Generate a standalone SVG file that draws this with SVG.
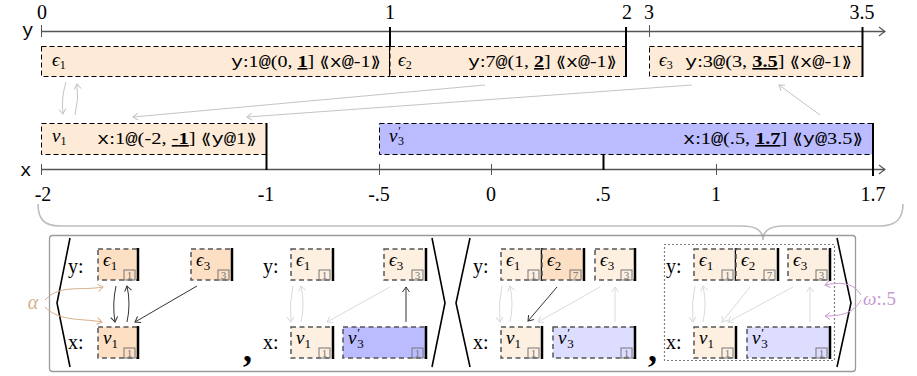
<svg xmlns="http://www.w3.org/2000/svg" width="917" height="376" viewBox="0 0 917 376">
<style>
.ax{stroke:#555;stroke-width:1.3;fill:none}
.tk{stroke:#555;stroke-width:1}
.thk{stroke:#000;stroke-width:2}
.tb{stroke:#000;stroke-width:1;stroke-dasharray:5 3}
.sb{stroke:#555;stroke-width:1.5;stroke-dasharray:5 3.5}
.edge{stroke:#000;stroke-width:2.5}
.tp{fill:#fdebd7}.pk{fill:#fddfc4}.lp{fill:#fdf0e1}.bl{fill:#bbbbff}.lb{fill:#ddddff}
.num{font-family:"Liberation Serif",serif;font-size:20px;text-anchor:middle}
.lab{font-family:"Liberation Serif",serif;font-size:16px}
.tt{font-family:"Liberation Mono",monospace}
.dj{font-family:"DejaVu Sans",sans-serif;font-size:15px}
.gr{font-family:"Liberation Serif","DejaVu Serif",serif;font-style:italic;font-size:19px}
.rl{font-family:"Liberation Serif",serif;font-size:20px}
.ix{fill:none;stroke:#777;stroke-width:1}
.ixt{font-family:"Liberation Serif",serif;font-size:11px;fill:#777;text-anchor:middle}
.ag{stroke:#c4c4c4;stroke-width:1;fill:none;marker-end:url(#mg)}
.ad{stroke:#333;stroke-width:1;fill:none;marker-end:url(#md)}
.al{stroke:#dadada;stroke-width:1;fill:none;marker-end:url(#ml)}
.at{stroke:#d6b08a;stroke-width:1;fill:none;marker-end:url(#mt)}
.ap{stroke:#c79ad2;stroke-width:1;fill:none;marker-end:url(#mp)}
.br{stroke:#000;stroke-width:1.6;fill:none;stroke-linejoin:miter}
</style>
<defs>
<marker id="mg" viewBox="-6 -5 7 10" markerWidth="7" markerHeight="10" refX="0" refY="0" orient="auto" markerUnits="userSpaceOnUse"><path d="M-5 -3.5 Q-1.5 -1 0 0 Q-1.5 1 -5 3.5" fill="none" stroke="#c4c4c4" stroke-width="1"/></marker>
<marker id="md" viewBox="-6 -5 7 10" markerWidth="7" markerHeight="10" refX="0" refY="0" orient="auto" markerUnits="userSpaceOnUse"><path d="M-5 -3.5 Q-1.5 -1 0 0 Q-1.5 1 -5 3.5" fill="none" stroke="#333" stroke-width="1"/></marker>
<marker id="ml" viewBox="-6 -5 7 10" markerWidth="7" markerHeight="10" refX="0" refY="0" orient="auto" markerUnits="userSpaceOnUse"><path d="M-5 -3.5 Q-1.5 -1 0 0 Q-1.5 1 -5 3.5" fill="none" stroke="#dadada" stroke-width="1"/></marker>
<marker id="mt" viewBox="-6 -5 7 10" markerWidth="7" markerHeight="10" refX="0" refY="0" orient="auto" markerUnits="userSpaceOnUse"><path d="M-5 -3.5 Q-1.5 -1 0 0 Q-1.5 1 -5 3.5" fill="none" stroke="#d6b08a" stroke-width="1"/></marker>
<marker id="mp" viewBox="-6 -5 7 10" markerWidth="7" markerHeight="10" refX="0" refY="0" orient="auto" markerUnits="userSpaceOnUse"><path d="M-5 -3.5 Q-1.5 -1 0 0 Q-1.5 1 -5 3.5" fill="none" stroke="#c79ad2" stroke-width="1"/></marker>
<marker id="ma" viewBox="-7 -6 8 12" markerWidth="8" markerHeight="12" refX="0" refY="0" orient="auto" markerUnits="userSpaceOnUse"><path d="M-6 -4.5 Q-2 -1.2 0 0 Q-2 1.2 -6 4.5" fill="none" stroke="#555" stroke-width="1.1"/></marker>
</defs>

<!-- axes -->
<g id="axis-y">
<line class="ax" x1="41" y1="31.5" x2="885" y2="31.5" marker-end="url(#ma)"/>
<line class="tk" x1="41.5" y1="25" x2="41.5" y2="37"/>
<line class="tk" x1="649.5" y1="25" x2="649.5" y2="37"/>
<text class="tt" x="22" y="36" font-size="19">y</text>
<text class="num" x="42" y="19">0</text>
<text class="num" x="390" y="19">1</text>
<text class="num" x="627" y="19">2</text>
<text class="num" x="649" y="19">3</text>
<text class="num" x="862" y="19">3.5</text>
</g>
<g id="axis-x">
<line class="ax" x1="41" y1="169.5" x2="885" y2="169.5" marker-end="url(#ma)"/>
<line class="tk" x1="41.5" y1="164" x2="41.5" y2="175"/>
<line class="tk" x1="379.5" y1="164" x2="379.5" y2="175"/>
<line class="tk" x1="491.5" y1="164" x2="491.5" y2="175"/>
<line class="tk" x1="716.5" y1="164" x2="716.5" y2="175"/>
<line class="thk" x1="603.5" y1="155" x2="603.5" y2="170"/>
<text class="tt" x="20" y="176" font-size="19">x</text>
<text class="num" x="43" y="201">-2</text>
<text class="num" x="266" y="201">-1</text>
<text class="num" x="379" y="201">-.5</text>
<text class="num" x="491" y="201">0</text>
<text class="num" x="603" y="201">.5</text>
<text class="num" x="716" y="201">1</text>
<text class="num" x="873" y="201">1.7</text>
</g>

<!-- timeline nodes -->
<g id="t-eps1">
<rect class="tb tp" x="41.5" y="46.5" width="348.5" height="30"/>
<line class="thk" x1="390" y1="27" x2="390" y2="77"/>
<text class="gr" x="52" y="66" font-size="17">ϵ<tspan font-size="12" font-style="normal" dy="3">1</tspan></text>
<text class="lab" x="231" y="67" textLength="150" lengthAdjust="spacingAndGlyphs"><tspan class="tt">y</tspan>:1<tspan class="tt">@</tspan>(0, <tspan font-weight="bold" text-decoration="underline">1</tspan>] <tspan class="dj">⟪</tspan><tspan class="tt">x@</tspan>-1<tspan class="dj">⟫</tspan></text>
</g>
<g id="t-eps2">
<rect class="tb tp" x="390" y="46.5" width="236" height="30"/>
<line class="thk" x1="626" y1="27" x2="626" y2="77"/>
<text class="gr" x="398" y="66" font-size="17">ϵ<tspan font-size="12" font-style="normal" dy="3">2</tspan></text>
<text class="lab" x="468" y="67" textLength="149" lengthAdjust="spacingAndGlyphs"><tspan class="tt">y</tspan>:7<tspan class="tt">@</tspan>(1, <tspan font-weight="bold" text-decoration="underline">2</tspan>] <tspan class="dj">⟪</tspan><tspan class="tt">x@</tspan>-1<tspan class="dj">⟫</tspan></text>
</g>
<g id="t-eps3">
<rect class="tb tp" x="649.5" y="46.5" width="213" height="30"/>
<line class="thk" x1="862.5" y1="27" x2="862.5" y2="77"/>
<text class="gr" x="659" y="66" font-size="17">ϵ<tspan font-size="12" font-style="normal" dy="3">3</tspan></text>
<text class="lab" x="685" y="67" textLength="167" lengthAdjust="spacingAndGlyphs"><tspan class="tt">y</tspan>:3<tspan class="tt">@</tspan>(3, <tspan font-weight="bold" text-decoration="underline">3.5</tspan>] <tspan class="dj">⟪</tspan><tspan class="tt">x@</tspan>-1<tspan class="dj">⟫</tspan></text>
</g>
<g id="t-nu1">
<rect class="tb tp" x="41.5" y="123.5" width="225" height="31"/>
<line class="thk" x1="266.5" y1="123" x2="266.5" y2="170"/>
<text class="gr" x="52" y="142" font-size="17">ν<tspan font-size="12" font-style="normal" dy="3">1</tspan></text>
<text class="lab" x="97" y="144" textLength="160" lengthAdjust="spacingAndGlyphs"><tspan class="tt">x</tspan>:1<tspan class="tt">@</tspan>(-2, <tspan text-decoration="underline">-<tspan font-weight="bold">1</tspan></tspan>] <tspan class="dj">⟪</tspan><tspan class="tt">y@</tspan>1<tspan class="dj">⟫</tspan></text>
</g>
<g id="t-nu3">
<rect class="tb bl" x="379.5" y="123.5" width="493.5" height="31"/>
<line class="thk" x1="873" y1="123" x2="873" y2="176"/>
<text class="gr" x="389" y="142" font-size="17">ν<tspan font-size="12" dy="-7">′</tspan><tspan font-size="12" font-style="normal" dx="-2" dy="10">3</tspan></text>
<text class="lab" x="683" y="144" textLength="180" lengthAdjust="spacingAndGlyphs"><tspan class="tt">x</tspan>:1<tspan class="tt">@</tspan>(.5, <tspan font-weight="bold" text-decoration="underline">1.7</tspan>] <tspan class="dj">⟪</tspan><tspan class="tt">y@</tspan>3.5<tspan class="dj">⟫</tspan></text>
</g>

<!-- brace and outer frame -->
<path id="brace" d="M38 204 C38 219 44 226 60 226 L742 226 C756 226 763 231 763 240 C763 231 770 226 784 226 L880 226 C896 226 903 219 903 204" fill="none" stroke="#bdbdbd" stroke-width="1.6"/>
<rect id="frame" x="49.5" y="235.5" width="806" height="136" rx="3" fill="none" stroke="#9a9a9a" stroke-width="1.3"/>

<!-- brackets and separators -->
<g id="brackets">
<path class="br" d="M70 238 L57 303 L70 367"/>
<path class="br" d="M432 238 L445 303 L432 367"/>
<path class="br" d="M470 238 L456 303 L470 367"/>
<path class="br" d="M837 238 L851 303 L837 367"/>
<text x="243" y="361" font-family="Liberation Serif,serif" font-size="36" font-weight="bold">,</text>
<text x="648" y="361" font-family="Liberation Serif,serif" font-size="36" font-weight="bold">,</text>
<rect x="664.5" y="244.5" width="170" height="116" fill="none" stroke="#000" stroke-width="1.2" stroke-dasharray="1 3"/>
</g>

<!-- row labels -->
<g id="row-labels" class="rl">
<text x="68" y="273">y:</text><text x="68" y="349">x:</text>
<text x="263" y="273">y:</text><text x="263" y="349">x:</text>
<text x="473" y="273">y:</text><text x="473" y="349">x:</text>
<text x="666" y="273">y:</text><text x="666" y="349">x:</text>
</g>

<!-- panel 1 -->
<g id="p1-eps1"><rect class="sb pk" x="98" y="249" width="40" height="31"/><line class="edge" x1="138" y1="248" x2="138" y2="281"/><rect class="ix" x="124" y="270" width="11" height="10"/><text class="ixt" x="129.5" y="279">1</text><text class="gr" x="103" y="266">ϵ<tspan font-size="13" font-style="normal" dy="4">1</tspan></text></g>
<g id="p1-eps3"><rect class="sb pk" x="191" y="249" width="41" height="31"/><line class="edge" x1="232" y1="248" x2="232" y2="281"/><rect class="ix" x="218" y="270" width="11" height="10"/><text class="ixt" x="223.5" y="279">3</text><text class="gr" x="196" y="266">ϵ<tspan font-size="13" font-style="normal" dy="4">3</tspan></text></g>
<g id="p1-nu1"><rect class="sb pk" x="98" y="327" width="40" height="31"/><line class="edge" x1="138" y1="326" x2="138" y2="359"/><rect class="ix" x="124" y="348" width="11" height="10"/><text class="ixt" x="129.5" y="357">1</text><text class="gr" x="103" y="344">ν<tspan font-size="13" font-style="normal" dy="4">1</tspan></text></g>

<!-- panel 2 -->
<g id="p2-eps1"><rect class="sb lp" x="291" y="249" width="42" height="31"/><line class="edge" x1="333" y1="248" x2="333" y2="281"/><rect class="ix" x="319" y="270" width="11" height="10"/><text class="ixt" x="324.5" y="279">1</text><text class="gr" x="296" y="266">ϵ<tspan font-size="13" font-style="normal" dy="4">1</tspan></text></g>
<g id="p2-eps3"><rect class="sb lp" x="384" y="249" width="42" height="31"/><line class="edge" x1="426" y1="248" x2="426" y2="281"/><rect class="ix" x="412" y="270" width="11" height="10"/><text class="ixt" x="417.5" y="279">3</text><text class="gr" x="389" y="266">ϵ<tspan font-size="13" font-style="normal" dy="4">3</tspan></text></g>
<g id="p2-nu1"><rect class="sb lp" x="291" y="327" width="42" height="31"/><line class="edge" x1="333" y1="326" x2="333" y2="359"/><rect class="ix" x="319" y="348" width="11" height="10"/><text class="ixt" x="324.5" y="357">1</text><text class="gr" x="296" y="344">ν<tspan font-size="13" font-style="normal" dy="4">1</tspan></text></g>
<g id="p2-nu3"><rect class="sb bl" x="343" y="327" width="83" height="31"/><line class="edge" x1="426" y1="326" x2="426" y2="359"/><rect class="ix" x="412" y="348" width="11" height="10"/><text class="ixt" x="417.5" y="357">1</text><text class="gr" x="348" y="344">ν<tspan font-size="13" dy="-7">′</tspan><tspan font-size="13" font-style="normal" dx="-2" dy="11">3</tspan></text></g>

<!-- panel 3 -->
<g id="p3-eps1"><rect class="sb lp" x="501" y="249" width="41" height="31"/><line class="edge" x1="542" y1="248" x2="542" y2="281"/><rect class="ix" x="528" y="270" width="11" height="10"/><text class="ixt" x="533.5" y="279">1</text><text class="gr" x="506" y="266">ϵ<tspan font-size="13" font-style="normal" dy="4">1</tspan></text></g>
<g id="p3-eps2"><rect class="sb pk" x="542" y="249" width="42" height="31"/><line class="edge" x1="584" y1="248" x2="584" y2="281"/><rect class="ix" x="570" y="270" width="11" height="10"/><text class="ixt" x="575.5" y="279">7</text><text class="gr" x="547" y="266">ϵ<tspan font-size="13" font-style="normal" dy="4">2</tspan></text></g>
<g id="p3-eps3"><rect class="sb lp" x="595" y="249" width="40" height="31"/><line class="edge" x1="635" y1="248" x2="635" y2="281"/><rect class="ix" x="621" y="270" width="11" height="10"/><text class="ixt" x="626.5" y="279">3</text><text class="gr" x="600" y="266">ϵ<tspan font-size="13" font-style="normal" dy="4">3</tspan></text></g>
<g id="p3-nu1"><rect class="sb lp" x="501" y="327" width="41" height="31"/><line class="edge" x1="542" y1="326" x2="542" y2="359"/><rect class="ix" x="528" y="348" width="11" height="10"/><text class="ixt" x="533.5" y="357">1</text><text class="gr" x="506" y="344">ν<tspan font-size="13" font-style="normal" dy="4">1</tspan></text></g>
<g id="p3-nu3"><rect class="sb lb" x="553" y="327" width="82" height="31"/><line class="edge" x1="635" y1="326" x2="635" y2="359"/><rect class="ix" x="621" y="348" width="11" height="10"/><text class="ixt" x="626.5" y="357">1</text><text class="gr" x="558" y="344">ν<tspan font-size="13" dy="-7">′</tspan><tspan font-size="13" font-style="normal" dx="-2" dy="11">3</tspan></text></g>

<!-- panel 4 -->
<g id="p4-eps1"><rect class="sb lp" x="694" y="249" width="42" height="31"/><line class="edge" x1="736" y1="248" x2="736" y2="281"/><rect class="ix" x="722" y="270" width="11" height="10"/><text class="ixt" x="727.5" y="279">1</text><text class="gr" x="699" y="266">ϵ<tspan font-size="13" font-style="normal" dy="4">1</tspan></text></g>
<g id="p4-eps2"><rect class="sb lp" x="736" y="249" width="42" height="31"/><line class="edge" x1="778" y1="248" x2="778" y2="281"/><rect class="ix" x="764" y="270" width="11" height="10"/><text class="ixt" x="769.5" y="279">7</text><text class="gr" x="741" y="266">ϵ<tspan font-size="13" font-style="normal" dy="4">2</tspan></text></g>
<g id="p4-eps3"><rect class="sb lp" x="788" y="249" width="42" height="31"/><line class="edge" x1="830" y1="248" x2="830" y2="281"/><rect class="ix" x="816" y="270" width="11" height="10"/><text class="ixt" x="821.5" y="279">3</text><text class="gr" x="793" y="266">ϵ<tspan font-size="13" font-style="normal" dy="4">3</tspan></text></g>
<g id="p4-nu1"><rect class="sb lp" x="694" y="327" width="42" height="31"/><line class="edge" x1="736" y1="326" x2="736" y2="359"/><rect class="ix" x="722" y="348" width="11" height="10"/><text class="ixt" x="727.5" y="357">1</text><text class="gr" x="699" y="344">ν<tspan font-size="13" font-style="normal" dy="4">1</tspan></text></g>
<g id="p4-nu3"><rect class="sb lb" x="747" y="327" width="83" height="31"/><line class="edge" x1="830" y1="326" x2="830" y2="359"/><rect class="ix" x="816" y="348" width="11" height="10"/><text class="ixt" x="821.5" y="357">1</text><text class="gr" x="752" y="344">ν<tspan font-size="13" dy="-7">′</tspan><tspan font-size="13" font-style="normal" dx="-2" dy="11">3</tspan></text></g>

<!-- annotations -->
<g id="alpha">
<text x="33" y="309" font-family="Liberation Serif,serif" font-style="italic" font-size="20" fill="#d6b08a" text-anchor="middle">α</text>
</g>
<g id="omega">
<text x="863" y="305" font-family="Liberation Serif,serif" font-size="19" fill="#c79ad2"><tspan font-style="italic">ω</tspan>:.5</text>
</g>

<!-- connectors -->
<g id="connectors">
<path class="ag" d="M66 82 Q61 98 63 114"/>
<path class="ag" d="M75 115 Q79 99 77 84"/>
<path class="ag" d="M485 85 L133 117"/>
<path class="ag" d="M692 85 L247 117"/>
<path class="ag" d="M820 115 L779 85"/>

<path class="ad" d="M116 286 Q112 304 115 322"/>
<path class="ad" d="M127 322 Q131 304 127 286"/>
<path class="ad" d="M197 286 L135 322"/>
<path class="at" d="M45 300 C60 284 80 291 103 287"/>
<path class="at" d="M45 307 C60 322 80 318 102 322"/>

<path class="al" d="M293 286 Q289 304 291 322"/>
<path class="al" d="M301 322 Q305 304 301 286"/>
<path class="al" d="M390 287 L327 322"/>
<path class="ad" d="M406 322 L406 287"/>

<path class="al" d="M502 286 Q498 304 500 322"/>
<path class="al" d="M510 322 Q514 304 510 286"/>
<path class="ad" d="M557 287 L528 321"/>
<path class="al" d="M600 287 L538 322"/>
<path class="al" d="M615 322 L615 287"/>

<path class="al" d="M695 286 Q691 304 693 322"/>
<path class="al" d="M703 322 Q707 304 703 286"/>
<path class="al" d="M750 287 L722 322"/>
<path class="al" d="M793 287 L728 322"/>
<path class="al" d="M810 322 L810 287"/>
<path class="ap" d="M861 295 C853 282 840 282 825 285"/>
<path class="ap" d="M861 300 C853 314 840 316 825 316"/>
</g>
</svg>
